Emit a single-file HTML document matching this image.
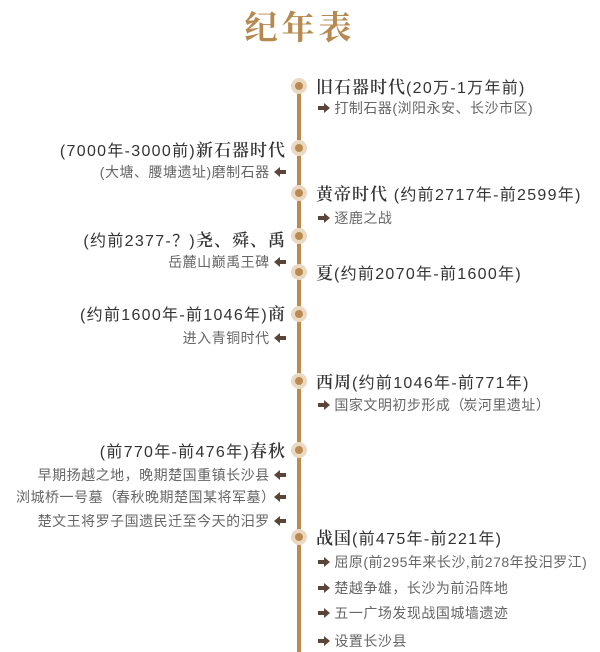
<!DOCTYPE html>
<html><head><meta charset="utf-8"><style>
body{margin:0;width:600px;height:652px;background:#fff;position:relative;overflow:hidden;font-family:"Liberation Sans","Noto Sans CJK SC",sans-serif;}
.t{position:absolute;left:0;width:600px;top:6px;text-align:center;font-family:"Noto Serif CJK SC",serif;font-weight:bold;font-size:33px;color:#b5894f;letter-spacing:4px;line-height:40px;}
.line{position:absolute;left:297px;top:86px;width:4px;height:566px;background:#b98b50;}
.dot{position:absolute;width:8px;height:8px;border-radius:50%;background:#b98b50;box-shadow:0 0 0 4px #ead9c2;}
.h{position:absolute;font-size:16px;color:#333;line-height:20px;white-space:nowrap;letter-spacing:1.3px}
.h b{font-family:"Noto Serif CJK SC",serif;font-weight:600;font-size:17px;letter-spacing:1px}
.s{position:absolute;font-size:14px;color:#666;line-height:18px;white-space:nowrap;letter-spacing:0.5px}
.r{left:316px}
.l{right:314px;text-align:right}
.sr{left:318px}
.sl{right:314px;text-align:right}
.ar{display:inline-block;vertical-align:middle;margin-top:-3px}
.n{letter-spacing:-1px}
</style></head><body>
<div class="t">纪年表</div>
<div class="line"></div>
<div class="dot" style="left:295px;top:82px"></div>
<div class="dot" style="left:295px;top:144px"></div>
<div class="dot" style="left:295px;top:189px"></div>
<div class="dot" style="left:295px;top:232px"></div>
<div class="dot" style="left:295px;top:268px"></div>
<div class="dot" style="left:295px;top:310px"></div>
<div class="dot" style="left:295px;top:377px"></div>
<div class="dot" style="left:295px;top:446px"></div>
<div class="dot" style="left:295px;top:533px"></div>

<div class="h r" style="top:76px"><b>旧石器时代</b>(20万-1万年前)</div>
<div class="s sr" style="top:99px"><svg class="ar" width="12" height="10"><path d="M0 3h6V0l6 5-6 5V7H0z" fill="#5b4538"/></svg> 打制石器(浏阳永安、长沙市区)</div>

<div class="h l" style="top:139px">(7000年-3000前)<b>新石器时代</b></div>
<div class="s sl" style="top:163px">(大塘、腰塘遗址)磨制石器 <svg class="ar" width="12" height="10"><path d="M12 3H6V0L0 5l6 5V7h6z" fill="#5b4538"/></svg></div>

<div class="h r" style="top:183px"><b>黄帝时代</b> (约前2717年-前2599年)</div>
<div class="s sr" style="top:209px"><svg class="ar" width="12" height="10"><path d="M0 3h6V0l6 5-6 5V7H0z" fill="#5b4538"/></svg> 逐鹿之战</div>

<div class="h l" style="top:229px">(约前2377-？)<b>尧、舜、禹</b></div>
<div class="s sl" style="top:253px">岳麓山巅禹王碑 <svg class="ar" width="12" height="10"><path d="M12 3H6V0L0 5l6 5V7h6z" fill="#5b4538"/></svg></div>

<div class="h r" style="top:262px"><b>夏</b>(约前2070年-前1600年)</div>

<div class="h l" style="top:303px">(约前1600年-前1046年)<b>商</b></div>
<div class="s sl" style="top:329px">进入青铜时代 <svg class="ar" width="12" height="10"><path d="M12 3H6V0L0 5l6 5V7h6z" fill="#5b4538"/></svg></div>

<div class="h r" style="top:371px"><b>西周</b>(约前1046年-前771年)</div>
<div class="s sr" style="top:396px"><svg class="ar" width="12" height="10"><path d="M0 3h6V0l6 5-6 5V7H0z" fill="#5b4538"/></svg> 国家文明初步形成<span class="n">（</span>炭河里遗址）</div>

<div class="h l" style="top:440px">(前770年-前476年)<b>春秋</b></div>
<div class="s sl" style="top:466px">早期扬越之地，晚期楚国重镇长沙县 <svg class="ar" width="12" height="10"><path d="M12 3H6V0L0 5l6 5V7h6z" fill="#5b4538"/></svg></div>
<div class="s sl" style="top:488px">浏城桥一号墓<span class="n">（</span>春秋晚期楚国某将军墓<span class="n">）</span><svg class="ar" width="12" height="10"><path d="M12 3H6V0L0 5l6 5V7h6z" fill="#5b4538"/></svg></div>
<div class="s sl" style="top:512px">楚文王将罗子国遗民迁至今天的汨罗 <svg class="ar" width="12" height="10"><path d="M12 3H6V0L0 5l6 5V7h6z" fill="#5b4538"/></svg></div>

<div class="h r" style="top:527px"><b>战国</b>(前475年-前221年)</div>
<div class="s sr" style="top:553px"><svg class="ar" width="12" height="10"><path d="M0 3h6V0l6 5-6 5V7H0z" fill="#5b4538"/></svg> 屈原(前295年来长沙,前278年投汨罗江)</div>
<div class="s sr" style="top:579px"><svg class="ar" width="12" height="10"><path d="M0 3h6V0l6 5-6 5V7H0z" fill="#5b4538"/></svg> 楚越争雄，长沙为前沿阵地</div>
<div class="s sr" style="top:604px"><svg class="ar" width="12" height="10"><path d="M0 3h6V0l6 5-6 5V7H0z" fill="#5b4538"/></svg> 五一广场发现战国城墙遗迹</div>
<div class="s sr" style="top:632px"><svg class="ar" width="12" height="10"><path d="M0 3h6V0l6 5-6 5V7H0z" fill="#5b4538"/></svg> 设置长沙县</div>
</body></html>
